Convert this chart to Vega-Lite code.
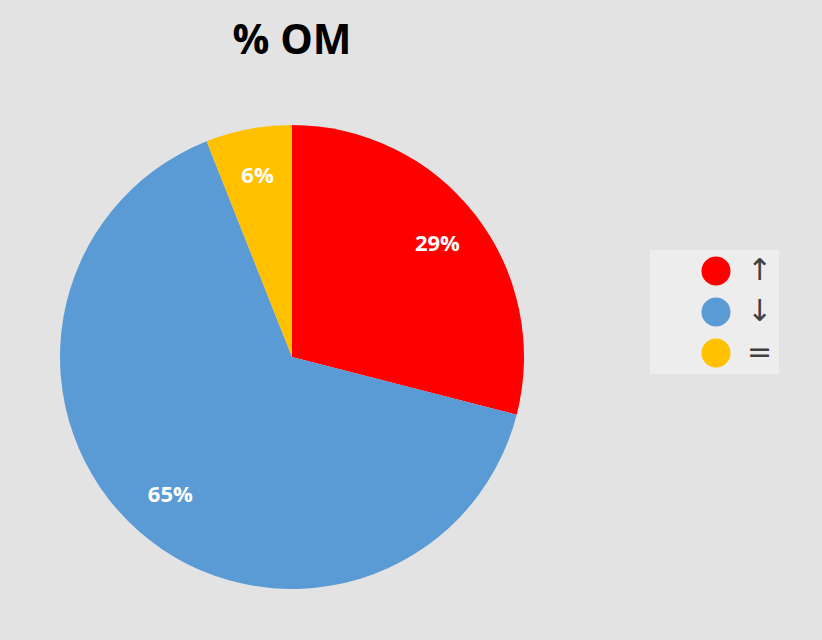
{
  "$schema": "https://vega.github.io/schema/vega-lite/v6.json",
  "width": 464,
  "height": 464,
  "autosize": {"type": "none"},
  "padding": {"left": 60, "top": 125, "right": 298, "bottom": 51},
  "background": "#e3e3e3",
  "title": {
    "text": "% OM",
    "font": "Open Sans",
    "fontSize": 41,
    "fontWeight": "bold",
    "color": "#000000",
    "anchor": "middle",
    "frame": "group",
    "baseline": "alphabetic",
    "offset": 30
  },
  "data": {
    "values": [
      {"cat": "↑", "share": 0.29, "idx": 1},
      {"cat": "↓", "share": 0.65, "idx": 2},
      {"cat": "=", "share": 0.06, "idx": 3}
    ]
  },
  "encoding": {
    "theta": {"field": "share", "type": "quantitative", "stack": true},
    "order": {"field": "idx", "type": "quantitative"}
  },
  "layer": [
    {
      "mark": {"type": "arc", "outerRadius": 232, "stroke": null},
      "encoding": {
        "color": {
          "field": "cat",
          "type": "nominal",
          "sort": ["↑", "↓", "="],
          "scale": {"domain": ["↑", "↓", "="], "range": ["#ff0000", "#5b9bd5", "#ffc000"]},
          "legend": {
            "orient": "none",
            "legendX": 590,
            "legendY": 125,
            "title": null,
            "symbolType": "circle",
            "symbolSize": 841,
            "symbolOffset": 45,
            "symbolStrokeWidth": 0,
            "padding": 6,
            "labelFont": "DejaVu Sans",
            "labelFontSize": 30,
            "labelColor": "#404040",
            "labelOffset": 16,
            "rowPadding": 11,
            "fillColor": "#ededed"
          }
        }
      }
    },
    {
      "mark": {
        "type": "text",
        "radius": 184,
        "font": "Open Sans",
        "fontWeight": "bold",
        "fontSize": 22,
        "color": "#ffffff"
      },
      "encoding": {
        "text": {"field": "share", "type": "quantitative", "format": ".0%"}
      }
    }
  ],
  "config": {"view": {"stroke": null}}
}
